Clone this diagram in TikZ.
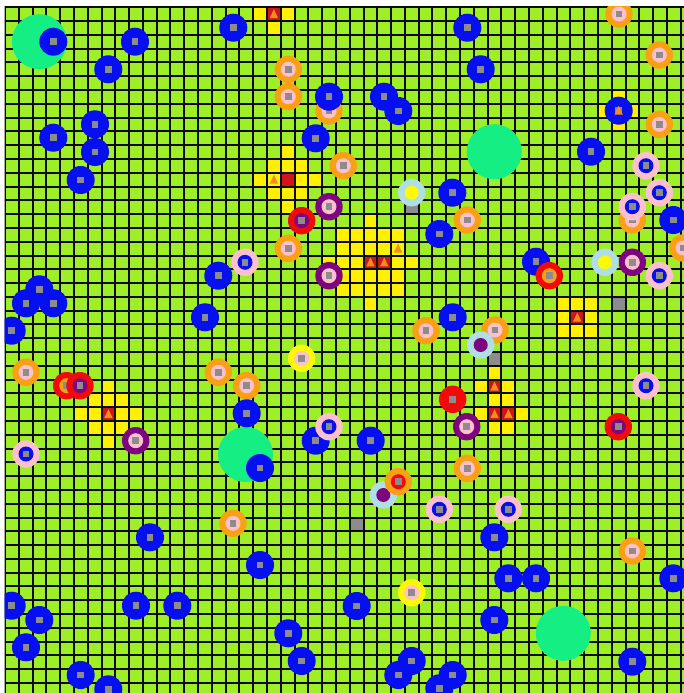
\documentclass[tikz,border=0pt]{standalone}
\definecolor{bg}{RGB}{158,238,40}
\definecolor{tblue}{RGB}{5,15,240}
\definecolor{tgray}{RGB}{140,140,140}
\definecolor{torange}{RGB}{250,160,20}
\definecolor{tpink}{RGB}{255,192,205}
\definecolor{tpurple}{RGB}{125,5,125}
\definecolor{tred}{RGB}{240,10,10}
\definecolor{tlblue}{RGB}{175,222,230}
\definecolor{tyellow}{RGB}{255,250,0}
\definecolor{tgreen}{RGB}{20,238,130}
\definecolor{pyellow}{RGB}{255,240,0}
\definecolor{pred}{RGB}{210,20,25}
\definecolor{ptri}{RGB}{245,140,30}
\definecolor{gridc}{RGB}{10,10,10}
\newcommand\cellfill[3]{\fill[#3] ({5+13.79*#1},{7.3+13.79*#2}) rectangle ++(13.79,13.79);}
\newcommand\ytri[2]{\fill[ptri] ({#1-4.2},{#2+4}) -- ({#1+4.2},{#2+4}) -- ({#1},{#2-5}) -- cycle;}
\newcommand\ctri[2]{\ytri{5+13.79*(#1+0.5)}{7.3+13.79*(#2+0.5)}}
\newcommand\gsq[2]{\fill[tgray] ({#1-3.3},{#2-3.3}) rectangle ({#1+3.3},{#2+3.3});}
\newcommand\tB[2]{\fill[tblue] (#1,#2) circle (14pt); \gsq{#1}{#2}}
\newcommand\tR[4]{\fill[#1] (#3,#4) circle (13.7pt); \fill[#2] (#3,#4) circle (7.5pt); \gsq{#3}{#4}}
\newcommand\tL[3]{\fill[tlblue] (#2,#3) circle (13.7pt); \fill[#1] (#2,#3) circle (7pt);}
\newcommand\tG[2]{\fill[tgreen] (#1,#2) circle (27.5pt);}
\begin{document}
\begin{tikzpicture}[x=1pt,y=-1pt,gridline/.style={draw=gridc,line width=1.3pt}]
\useasboundingbox (0,0) rectangle (684,693);
\fill[white] (0,0) rectangle (684,693);
\begin{scope}
\clip (4.5,6.5) rectangle (684,693);
\fill[bg] (5,7.3) rectangle (684,693);
% yellow patches
\foreach \i/\j in {18/0,20/0,19/1,
 20/10,19/11,20/11,21/11,18/12,19/12,21/12,22/12,19/13,20/13,21/13,20/14,
 26/15,24/16,25/16,26/16,27/16,28/16,24/17,25/17,26/17,27/17,28/17,
 23/18,24/18,25/18,28/18,29/18,24/19,25/19,26/19,27/19,28/19,24/20,25/20,26/20,27/20,28/20,26/21,
 40/21,41/21,42/21,40/22,42/22,40/23,41/23,42/23,
 35/26,34/27,36/27,35/28,36/28,34/29,37/29,35/30,36/30,
 7/27,6/28,7/28,8/28,5/29,6/29,8/29,9/29,6/30,7/30,8/30,7/31,
 43/7,45/7,44/6,44/8}
 {\cellfill{\i}{\j}{pyellow}}
\foreach \i/\j in {19/0,20/12,26/18,27/18,41/22,35/27,35/29,36/29,7/29,44/7}
 {\cellfill{\i}{\j}{pred}}
\foreach \i/\j in {29/14,44/21,35/25,25/37}
 {\cellfill{\i}{\j}{tgray}}
\foreach \i/\j in {19/0,19/12,28/17,26/18,27/18,41/22,35/27,35/29,36/29,7/29}
 {\ctri{\i}{\j}}
% grid, snapped to whole pixels
\foreach \k in {0,...,50}{
 \pgfmathsetmacro{\gx}{round(5+13.79*\k)}
 \pgfmathsetmacro{\gy}{round(7.3+13.79*\k)}
 \draw[gridline] (\gx,6.5) -- (\gx,693);
 \draw[gridline] (4.5,\gy) -- (684,\gy);
}
% big green
\foreach \x/\y in {39.3/41.7,494.3/151.7,245.5/454.5,563.3/633.3} {\tG{\x}{\y}}
% orange
\foreach \x/\y in {619/14,659.3/55,288.3/69.3,288.3/96.7,329/111,659.3/124.3,343.3/165.7,632.3/220,467.3/220,288.3/248.3,683/248,426/330.7,495/330,26/372.3,218.3/372.3,246.7/385.7,467.3/468.3,233/523.3,632.3/551}
 {\tR{torange}{tpink}{\x}{\y}}
% blue
\foreach \x/\y in {233.3/27.7,53.3/41.7,135/41.7,467.3/27.7,108.3/69.3,480.7/69.3,329/96.7,384/96.7,398.3/111,618.7/110.7,95/124.3,53.3/137.7,315.7/138.3,95/152,591/151.7,80.7/180,452.3/192.7,673.3/220,439.3/234,536/261.7,218.3/275.7,39.3/289.3,26/303.3,53.3/303.3,205/317.3,452.7/317.3,11.7/330.7,246.7/413.3,315.7/440.7,370.7/440.7,260/468,150/537.3,494.3/537.3,260/565,508.3/578.3,536/578.3,673.3/578.3,11.7/605.7,136/605.7,177.3/605.7,356.7/606,39.3/620,494.3/620,288.3/633.3,26/647.3,301.7/661,411.7/661,632.3/661.7,80.7/675,398.3/675,452.7/675,108.3/689.3,439.3/688.3}
 {\tB{\x}{\y}}
\ytri{618.7}{110.7}
% pink
\foreach \x/\y in {646/165.7,659.3/192.7,632.3/206.7,245/262.3,659.3/275.7,646/385.7,329/426.7,26/454,439.3/509.3,508.3/509.3}
 {\tR{tpink}{tblue}{\x}{\y}}
% purple
\foreach \x/\y in {329/206.7,329/275.7,632.3/262.3,135.7/440.7,466.7/426.7}
 {\tR{tpurple}{tpink}{\x}{\y}}
% red
\tR{tred}{tpurple}{301.7}{220.7}
\tR{tred}{torange}{549.3}{275.7}
\tR{tred}{torange}{66.7}{385.7}
\tR{tred}{tpurple}{80}{385.7}
\tR{tred}{tred}{452.7}{399.3}
\tR{tred}{tpurple}{618.3}{426.7}
% yellow
\tR{tyellow}{tpink}{301.7}{358.3}
\tR{tyellow}{tpink}{411.7}{592.7}
% light blue
\tL{tyellow}{411.7}{192.7}
\tL{tyellow}{605}{262.3}
\tL{tpurple}{480.7}{345}
\tL{tpurple}{383.3}{495}
% orange with red
\tR{torange}{tred}{398.3}{481.7}
\end{scope}
\end{tikzpicture}
\end{document}
